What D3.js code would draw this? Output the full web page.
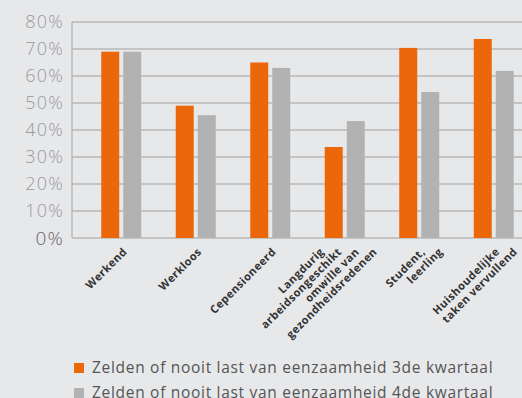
<!DOCTYPE html>
<html><head><meta charset="utf-8">
<script src="https://cdn.jsdelivr.net/npm/d3@7"></script>
<style>
html,body{margin:0;padding:0;background:#e7e8ea;}
svg{display:block;}
</style></head>
<body>
<svg id="c" width="522" height="398"></svg>
<script>
const categories = ["Werkend","Werkloos","Cepensioneerd","Langdurig\narbeidsongeschikt\nomwille van\ngezondheidsredenen","Student,\nleerling","Huishoudelijke\ntaken vervullend"];
const seriesNames = ["Zelden of nooit last van eenzaamheid 3de kwartaal","Zelden of nooit last van eenzaamheid 4de kwartaal"];
const q3 = [0.69, 0.49, 0.65, 0.337, 0.704, 0.737];
const q4 = [0.69, 0.455, 0.63, 0.433, 0.541, 0.619];
const yTicks = [0, 0.1, 0.2, 0.3, 0.4, 0.5, 0.6, 0.7, 0.8];
const colors = ["#eb6709", "#b2b2b2"];

const svg = d3.select("#c");
const font = "'Open Sans', 'Noto Sans', sans-serif";
const plotL = 72, plotR = 522, plotT = 22, plotB = 238;

const y = d3.scaleLinear().domain([0, 0.8]).range([plotB, plotT]);
const x = d3.scaleBand().domain(categories).range([84, 531]).padding(0);
const x1 = d3.scaleBand().domain(seriesNames).range([-20, 20]).paddingInner(4/22);

// gridlines
svg.append("g").selectAll("line").data(yTicks).join("line")
  .attr("x1", plotL).attr("x2", plotR)
  .attr("y1", d => y(d)).attr("y2", d => y(d))
  .attr("stroke", "#b9b9b9").attr("stroke-width", 1.3);
// left axis line
svg.append("line").attr("x1", plotL).attr("x2", plotL).attr("y1", y(0.8)).attr("y2", y(0))
  .attr("stroke", "#b3b3b3").attr("stroke-width", 1.3);

// y tick labels
svg.append("g").selectAll("text").data(yTicks).join("text")
  .attr("x", 64).attr("y", d => y(d)).attr("dy", "0.36em")
  .attr("text-anchor", "end")
  .attr("font-family", font).attr("font-weight", 300)
  .attr("font-size", d => d === 0 ? 19 : 18)
  .attr("letter-spacing", 1.2)
  .attr("fill", d => d === 0 ? "#666" : "#9a9a9a")
  .text(d => d3.format(".0%")(d));

// bars
const data = categories.map((c, i) => ({c, vals: [q3[i], q4[i]]}));
const g = svg.append("g").selectAll("g").data(data).join("g")
  .attr("transform", d => `translate(${x(d.c) + x.bandwidth()/2},0)`);
g.selectAll("rect").data(d => d.vals.map((v, j) => ({v, s: seriesNames[j], j}))).join("rect")
  .attr("x", d => x1(d.s)).attr("width", x1.bandwidth())
  .attr("y", d => y(d.v)).attr("height", d => y(0) - y(d.v))
  .attr("fill", d => colors[d.j]);

// x labels
const dx = 17.7;
const lab = svg.append("g");
categories.forEach(c => {
  const lines = c.split("\n");
  const n = lines.length;
  const cx = x(c) + x.bandwidth()/2;
  const shift = n > 2 ? -(n - 1) / 2 * dx : 0;
  lines.forEach((ln, i) => {
    const px = cx + shift + i * dx + 1, py = 247;
    lab.append("text")
      .attr("transform", `translate(${px},${py}) rotate(-45)`)
      .attr("text-anchor", "end").attr("dy", "0.7em")
      .attr("font-family", font).attr("font-weight", 700)
      .attr("font-size", 11).attr("letter-spacing", 0.45).attr("fill", "#333")
      .text(ln);
  });
});

// legend
const leg = svg.append("g").selectAll("g").data(seriesNames).join("g")
  .attr("transform", (d, i) => `translate(74,${363 + i * 25})`);
leg.append("rect").attr("width", 10).attr("height", 10).attr("fill", (d, i) => colors[i]);
leg.append("text").attr("x", 18).attr("y", 10)
  .attr("font-family", font).attr("font-size", 15.5).attr("letter-spacing", 0.7).attr("fill", "#555")
  .text(d => d);
</script>
</body></html>
